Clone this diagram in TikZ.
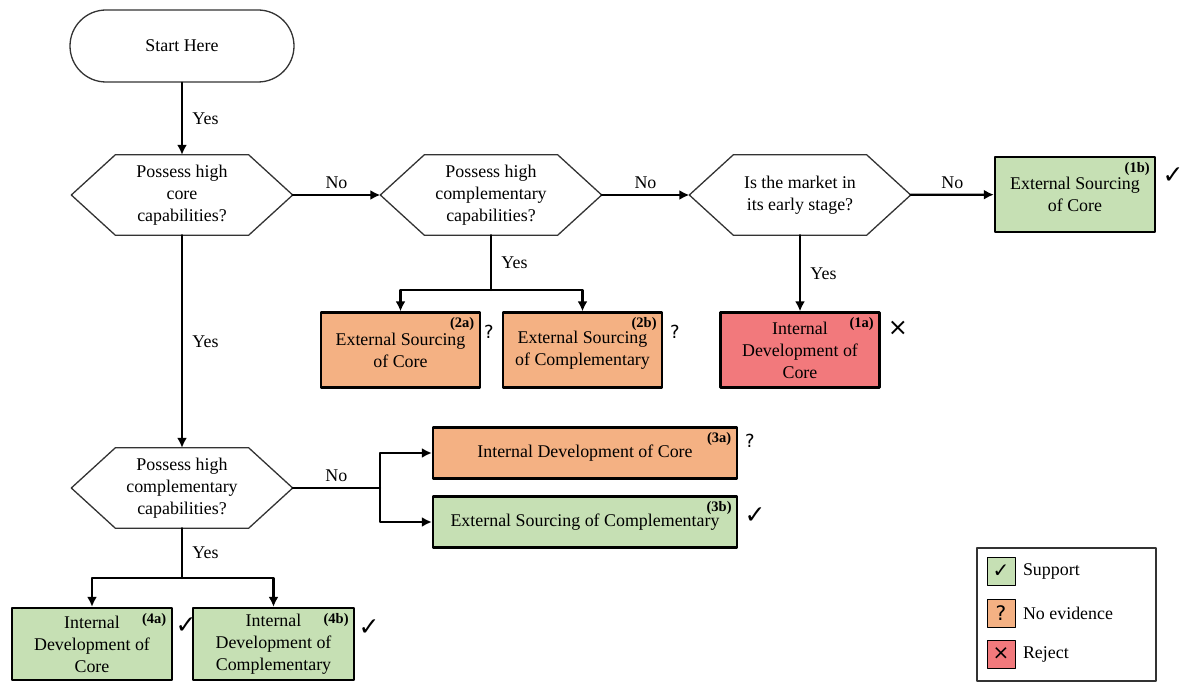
\documentclass[tikz,border=0pt]{standalone}
\usepackage{fontspec}
\setmainfont{Liberation Serif}
\newfontfamily\symfont{DejaVu Sans}
\usepackage{tikz}
\usetikzlibrary{arrows.meta,positioning}

\definecolor{supportgreen}{RGB}{198,224,180}
\definecolor{noevidence}{RGB}{244,177,131}
\definecolor{rejectred}{RGB}{242,121,124}

% hexagon round a (named) question node
\newcommand{\hexframe}[1]{%
  \draw[hexline] (#1.west) -- ([xshift=44pt]#1.north west) -- ([xshift=-44pt]#1.north east)
    -- (#1.east) -- ([xshift=-44pt]#1.south east) -- ([xshift=44pt]#1.south west) -- cycle;}

\begin{document}
\begin{tikzpicture}[x=1pt, y=-1pt, line cap=round, line join=round,
    >={Latex[length=10pt,width=10pt]},
    every node/.style={font=\fontsize{17.9}{22}\selectfont},
    hexline/.style={draw=black!80, line width=1.3pt},
    question/.style={minimum width=221pt, minimum height=80pt, inner sep=0pt, align=center},
    startbox/.style={draw=black!80, line width=1.3pt, rounded corners=36pt,
      minimum width=224pt, minimum height=72pt},
    outcome/.style={draw, line width=2.3pt, align=center, inner sep=2pt,
      minimum width=159pt, minimum height=75pt},
    longbox/.style={outcome, minimum width=304pt, minimum height=51pt},
    tag/.style={font=\fontsize{14.5}{16}\selectfont\bfseries, inner sep=0pt},
    verdict/.style={font=\fontsize{18}{20}\symfont, inner sep=0pt},
    tick/.style={verdict, font=\fontsize{25}{26}\symfont},
    flow/.style={->, line width=2.2pt},
    link/.style={line width=2.2pt},
    legbox/.style={draw, line width=1pt, minimum size=28pt, inner sep=0pt,
      font=\fontsize{20}{22}\symfont}]

  \useasboundingbox (0,0) rectangle (1184,682);

  % Start en vragen
  \node[startbox] (start) at (182,46) {Start Here};
  \node[question] (q1) at (182,195) {Possess high\\core\\capabilities?};
  \node[question] (q2) at (491,195) {Possess high\\complementary\\capabilities?};
  \node[question] (q3) at (800,195) {Is the market in\\its early stage?};
  \node[question] (q4) at (182,488) {Possess high\\complementary\\capabilities?};
  \foreach \q in {q1,q2,q3,q4} {\hexframe{\q}}

  % Uitkomsten
  \node[outcome, fill=supportgreen, minimum width=160pt] (b1b) at (1075,194.5) {External Sourcing\\of Core};
  \node[outcome, fill=rejectred] (b1a) at (800,350) {Internal\\Development of\\Core};
  \node[outcome, fill=noevidence] (b2a) at (400.5,350) {External Sourcing\\of Core};
  \node[outcome, fill=noevidence] (b2b) at (582.5,350) {External Sourcing\\of Complementary};
  \node[longbox, fill=noevidence] (b3a) at (585,453) {\raisebox{-7pt}{Internal Development of Core}};
  \node[longbox, fill=supportgreen] (b3b) at (585,522) {\raisebox{-3pt}{External Sourcing of Complementary}};
  \node[outcome, fill=supportgreen, minimum width=160pt, minimum height=72pt] (b4a) at (92,644) {Internal\\Development of\\Core};
  \node[outcome, fill=supportgreen, minimum width=161pt, minimum height=72pt] (b4b) at (273.5,644) {Internal\\Development of\\Complementary};

  % Nummers
  \foreach \b/\t in {b1b/1b,b1a/1a,b2a/2a,b2b/2b,b3a/3a,b3b/3b,b4a/4a,b4b/4b}
    \node[tag] (t\t) at ([xshift=-19pt,yshift=-13pt]\b.north east) {(\t)};

  % Oordelen
  \node[tick] (v1b) at (1173,176) {✓};
  \node[verdict, font=\fontsize{24}{24}\symfont] (v1a) at (898,328) {×};
  \node[verdict] (v2a) at (489,332) {?};
  \node[verdict] (v2b) at (675,332) {?};
  \node[verdict] (v3a) at (750,441) {?};
  \node[tick] (v3b) at (755,516) {✓};
  \node[tick] (v4a) at (186,626) {✓};
  \node[tick] (v4b) at (369,628) {✓};

  % Pijlen
  \draw[flow] (start) -- node[right=6pt] {Yes} (q1);
  \draw[flow] (q1) -- node[above=2pt] {No} (q2);
  \draw[flow] (q2) -- node[above=2pt] {No} (q3);
  \draw[flow] (q3) -- node[above=2pt] {No} (b1b);
  \draw[flow] (q3) -- node[right=6pt] {Yes} (b1a);
  \draw[flow] (q1) -- node[right=6pt] {Yes} (q4);

  \coordinate (j2) at (491,290);
  \draw[link] (q2.south) -- node[right=6pt] {Yes} (j2);
  \draw[flow] (j2) -| (b2a.north);
  \draw[flow] (j2) -| (b2b.north);

  \coordinate (j4) at (380,488);
  \draw[link] (q4.east) -- node[above=2pt] {No} (j4);
  \draw[flow] (j4) |- (b3a.west);
  \draw[flow] (j4) |- (b3b.west);

  \coordinate (j5) at (182,578);
  \draw[link] (q4.south) -- node[right=6pt] {Yes} (j5);
  \draw[flow] (j5) -| (b4a.north);
  \draw[flow] (j5) -| (b4b.north);

  % Legenda
  \node[draw=black!80, line width=1.2pt, minimum width=179pt, minimum height=133pt] (legend) at (1066.5,614.5) {};
  \node[legbox, fill=supportgreen] (ls) at (1001,571) {✓};
  \node[legbox, fill=noevidence] (ln) at (1001,613) {?};
  \node[legbox, fill=rejectred] (lr) at (1001,654) {×};
  \node[right=4pt of ls] (lst) {Support};
  \node[right=4pt of ln] (lnt) {No evidence};
  \node[right=4pt of lr] (lrt) {Reject};
\end{tikzpicture}
\end{document}
